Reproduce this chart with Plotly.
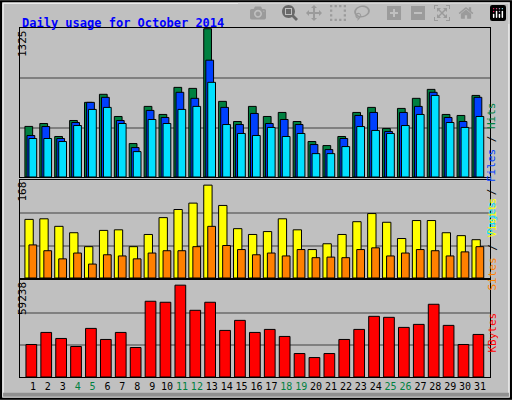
import plotly.graph_objects as go

days = list(range(1, 32))
weekends = [4, 5, 11, 12, 18, 19, 25, 26]

hits = [452, 478, 362, 505, 667, 739, 541, 299, 631, 559, 801, 792, 1325, 676, 496, 631,
        541, 577, 496, 317, 281, 362, 577, 622, 434, 613, 703, 783, 559, 550, 729]
files = [371, 451, 344, 487, 667, 712, 505, 263, 595, 532, 757, 703, 1044, 622, 469, 568,
         478, 514, 469, 290, 245, 344, 550, 577, 407, 577, 631, 757, 532, 496, 712]
pages = [344, 344, 317, 460, 604, 622, 478, 227, 514, 478, 604, 631, 846, 469, 389, 371,
         443, 362, 389, 209, 209, 272, 451, 416, 389, 460, 559, 729, 487, 443, 541]
visits = [101, 102, 89, 78, 54, 82, 83, 54, 75, 104, 118, 129, 160, 125, 85, 75,
          80, 102, 83, 49, 59, 75, 97, 111, 96, 68, 99, 99, 78, 73, 66]
sites = [57, 47, 33, 43, 24, 40, 38, 33, 43, 47, 47, 54, 89, 56, 49, 40,
         43, 38, 49, 35, 36, 35, 49, 52, 38, 43, 49, 47, 38, 45, 54]
kbytes = [19953, 27358, 23656, 18719, 29827, 23038, 27358, 18102, 46488, 45871, 56361,
          40934, 45871, 28592, 34763, 27358, 29209, 24890, 14399, 11931, 14399, 23038,
          29209, 37232, 36615, 30444, 32295, 44637, 31678, 19953, 26124]

max_hits, max_visits, max_kb = 1325, 168, 59238
MONO = "DejaVu Sans Mono"
line = dict(color="black", width=1)

fig = go.Figure()
# panel 1: hits / files / pages
for vals, col, off in [(hits, "#008040", -0.54), (files, "#0040ff", -0.40), (pages, "#00e0ff", -0.27)]:
    fig.add_bar(x=days, y=vals, offset=off, width=0.52, marker=dict(color=col, line=line),
                xaxis="x", yaxis="y")
# panel 2: visits / sites
for vals, col, off, w in [(visits, "#ffff00", -0.54, 0.56), (sites, "#ff8000", -0.27, 0.52)]:
    fig.add_bar(x=days, y=vals, offset=off, width=w, marker=dict(color=col, line=line),
                xaxis="x2", yaxis="y2")
# panel 3: kbytes
fig.add_bar(x=days, y=kbytes, offset=-0.47, width=0.72, marker=dict(color="#ff0000", line=line),
            xaxis="x3", yaxis="y3")

xr = [0.13, 31.67]
xdom = [20 / 512, 490 / 512]
ticktext = [f'<span style="color:#008040">{d}</span>' if d in weekends else str(d) for d in days]
common_x = dict(range=xr, domain=xdom, showgrid=False, zeroline=False,
                showline=True, linecolor="black", mirror=True, ticks="")
fig.update_layout(
    xaxis=dict(**common_x, anchor="y", showticklabels=False),
    xaxis2=dict(**common_x, anchor="y2", showticklabels=False),
    xaxis3=dict(**common_x, anchor="y3", tickvals=days, ticktext=ticktext, tickangle=0,
                tickfont=dict(family=MONO, size=10, color="black")),
)
for name, mx, dom in [("yaxis", max_hits, [1 - 177 / 400, 1 - 28 / 400]),
                      ("yaxis2", max_visits, [1 - 278 / 400, 1 - 180 / 400]),
                      ("yaxis3", max_kb, [1 - 377 / 400, 1 - 280 / 400])]:
    anchor = {"yaxis": "x", "yaxis2": "x2", "yaxis3": "x3"}[name]
    fig.layout[name] = dict(range=[0, mx * 1.005], domain=dom, anchor=anchor,
                            tickvals=[mx / 3, 2 * mx / 3], showticklabels=False,
                            gridcolor="#808080", gridwidth=1.5, zeroline=False,
                            showline=True, linecolor="black", mirror=True, ticks="")

ann = [
    dict(x=20 / 512, y=1 - 14 / 400, text="<b>Daily usage for October 2014</b>", xanchor="left",
         font=dict(family=MONO, size=12, color="#0000ff")),
    dict(x=14 / 512, y=1 - 28 / 400, text=str(max_hits), textangle=-90, yanchor="top"),
    dict(x=14 / 512, y=1 - 180 / 400, text=str(max_visits), textangle=-90, yanchor="top"),
    dict(x=14 / 512, y=1 - 280 / 400, text=str(max_kb), textangle=-90, yanchor="top"),
    dict(x=500 / 512, y=1 - 100 / 400, textangle=-90,
         text='<span style="color:#00e0ff">Pages</span> / <span style="color:#0040ff">Files</span>'
              ' / <span style="color:#008040">Hits</span>'),
    dict(x=500 / 512, y=1 - 244 / 400, textangle=-90,
         text='<span style="color:#ff8000">Sites</span> / <span style="color:#ffff00">Visits</span>'),
    dict(x=500 / 512, y=1 - 355 / 400, textangle=-90,
         text='<span style="color:#ff0000">KBytes</span>'),
]
for a in ann:
    a.setdefault("font", dict(family=MONO, size=11, color="black"))
    a.update(xref="paper", yref="paper", showarrow=False)

fig.update_layout(
    width=512, height=400, margin=dict(l=0, r=0, t=0, b=0),
    paper_bgcolor="#c0c0c0", plot_bgcolor="#c0c0c0",
    showlegend=False, barmode="overlay", annotations=ann,
    shapes=[
        dict(type="rect", xref="paper", yref="paper", x0=0.002, y0=0.003, x1=0.998, y1=0.997,
             line=dict(color="black", width=2)),
        dict(type="rect", xref="paper", yref="paper", x0=0.006, y0=0.008, x1=0.994, y1=0.992,
             line=dict(color="white", width=1)),
        dict(type="rect", xref="paper", yref="paper", x0=0.006, y0=0.008, x1=0.994, y1=0.018,
             fillcolor="#909090", line=dict(width=0)),
    ],
)
fig.write_html("out.html", post_script="document.body.style.margin='0';")
